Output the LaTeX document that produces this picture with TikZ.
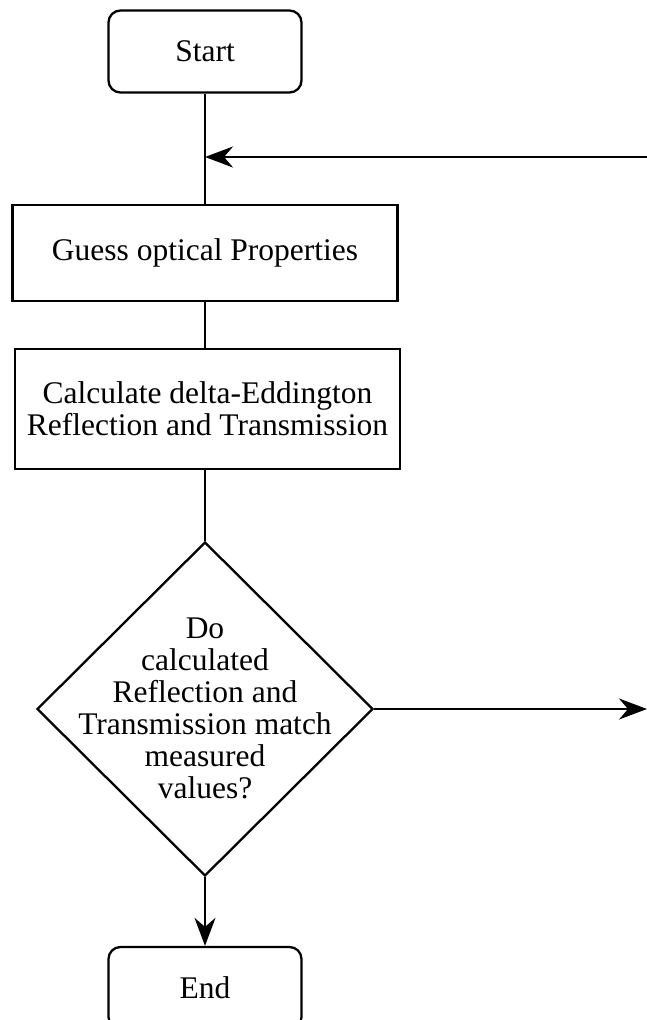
\documentclass[tikz,border=0pt]{standalone}
\usepackage{fontspec}
\setmainfont{Liberation Serif}
\newfontfamily\timesfam{Liberation Serif}
\usetikzlibrary{arrows.meta,shapes.geometric}
\begin{document}
\begin{tikzpicture}[x=1pt,y=-1pt,
  every node/.style={font=\timesfam\fontsize{31.5}{32}\selectfont},
  term/.style={draw,line width=2.3pt,rounded corners=12pt,minimum width=193pt,minimum height=82pt,inner sep=0pt},
  proc/.style={draw,line width=2.3pt,minimum width=385pt,inner sep=0pt,align=center},
  dec/.style={draw,line width=2.3pt,diamond,minimum width=336pt,minimum height=334pt,inner sep=0pt},
  conn/.style={line width=2.3pt},
  arr/.style={line width=2.3pt,-{Stealth[length=28pt,width=21pt,inset=9pt]}}]
\useasboundingbox (0,0) rectangle (647,1020);
\node[term] (start) at (205,51.5) {Start};
\node[proc,minimum height=96pt] (guess) at (205,253) {Guess optical Properties};
\node[proc,minimum height=120pt] (calc) at (207.5,409) {Calculate delta-Eddington\\Reflection and Transmission};
\node[dec] (dec) at (205,709) {};
\node[align=center] (dect) at (205,708) {Do\\calculated\\Reflection and\\Transmission match\\measured\\values?};
\node[term] (end) at (205,988) {End};
\coordinate (loop) at (205,157);
\coordinate (back) at (647,157);
\coordinate (out) at (647,709);
\draw[conn] (start.south) -- (guess.north);
\draw[conn] (guess.south) -- (calc.north -| guess.south);
\draw[conn] (calc.south -| dec.north) -- (dec.north);
\draw[arr] (dec.south) -- (end.north);
\draw[arr] (back) -- (loop);
\draw[arr] (dec.east) -- (out);
\end{tikzpicture}
\end{document}
